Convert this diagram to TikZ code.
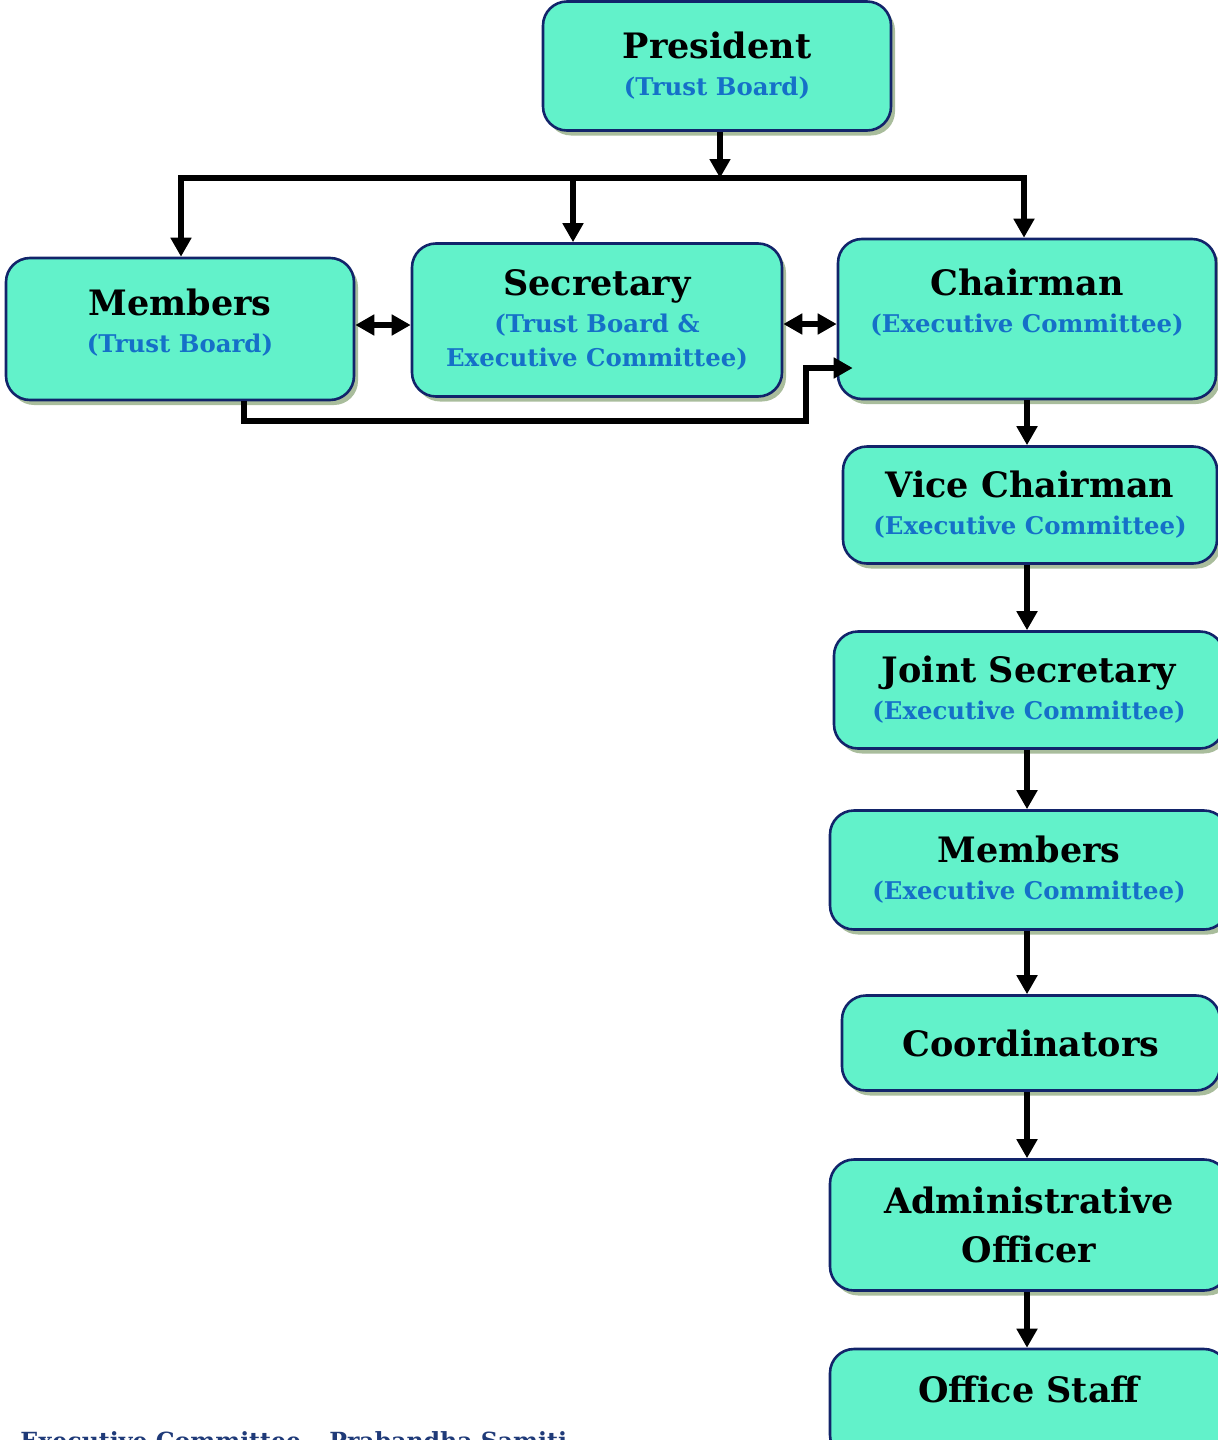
\documentclass[tikz,border=0pt]{standalone}
\usepackage{fontspec}
\setmainfont{DejaVu Serif}
\usepackage{tikz}
\usetikzlibrary{arrows.meta}
\usetikzlibrary{positioning}
\usetikzlibrary{shadows}
\definecolor{boxfill}{HTML}{62F2CA}
\definecolor{boxline}{HTML}{12246A}
\definecolor{boxshadow}{HTML}{A9BD9C}
\definecolor{subblue}{HTML}{1570C8}
\definecolor{footblue}{HTML}{1F3A78}
\newcommand{\subline}{\color{subblue}\fontsize{12.2}{17}\selectfont}
\tikzset{
  box/.style = {draw = boxline, line width = 1.3pt, fill = boxfill, rounded corners = 12pt,
    drop shadow = {shadow xshift = 2pt, shadow yshift = -2.5pt, fill = boxshadow, opacity = 1},
    align = center, inner sep = 0pt, font = \bfseries\fontsize{17.5}{18.5}\selectfont},
  boxsize/.style 2 args = {minimum width = #1, minimum height = #2},
  ttl/.style = {align = center, inner sep = 0pt, font = \bfseries\fontsize{17.5}{18.5}\selectfont},
  conn/.style = {line width = 2.7pt, -{Triangle[length = 9.5pt, width = 10pt]}},
  dconn/.style = {line width = 2.7pt, {Triangle[length = 9.5pt, width = 10pt]}-{Triangle[length = 9.5pt, width = 10pt]}},
  foot/.style = {inner sep = 0pt, text = footblue, font = \bfseries\fontsize{11.8}{14}\selectfont}
}

\begin{document}
\begin{tikzpicture}[x = 0.5pt, y = -0.5pt]
    \useasboundingbox (0,0) rectangle (1218,1440);
    % trust board
    \node [box, boxsize = {174pt}{64.5pt}] (pres) at (717,66) {President\\{\subline (Trust Board)}};
    \node [box, boxsize = {174pt}{71pt}] (memtb) at (180,329) {};
    \node [ttl] (memtbtext) at ([yshift = 3pt]memtb.center) {Members\\{\subline (Trust Board)}};
    \node [box, boxsize = {185pt}{76.5pt}] (sec) at (597,320)
      {Secretary\\{\subline (Trust Board \&}\\[-1.5pt]{\subline Executive Committee)}};
    \node [box, boxsize = {189pt}{80pt}] (chair) at (1027,319) {};
    \node [ttl] (chairtext) at ([yshift = 8pt]chair.center) {Chairman\\{\subline (Executive Committee)}};
    % executive committee
    \node [box, boxsize = {187pt}{58.5pt}] (vice) at (1030,505) {Vice Chairman\\{\subline (Executive Committee)}};
    \node [box, boxsize = {195pt}{58.5pt}] (joint) at (1029,690) {Joint Secretary\\{\subline (Executive Committee)}};
    \node [box, boxsize = {199pt}{59.5pt}] (memec) at (1029,870) {Members\\{\subline (Executive Committee)}};
    \node [box, boxsize = {189pt}{47.5pt}] (coord) at (1031,1043) {Coordinators};
    \node [box, boxsize = {199pt}{65.5pt}] (admin) at (1029,1225) {Administrative\\[6pt]Officer};
    \node [box, boxsize = {199pt}{55pt}] (staff) at (1029,1404) {};
    \node [ttl] (stafftext) at ([yshift = 7.5pt]staff.center) {Office Staff};
    \node [foot, anchor = base west] (footer) at (20,1449) {Executive Committee -- Prabandha Samiti};
    % paths
    \coordinate (hub) at (720,178);
    \coordinate (busL) at (181,178);
    \coordinate (busS) at (573,178);
    \coordinate (busR) at (1024,178);
    \draw [conn] (hub |- pres.south) -- (hub);
    \draw [conn] (hub) -| (busL |- memtb.north);
    \draw [conn] (hub) -| (busR |- chair.north);
    \draw [conn] (busS) -- (busS |- sec.north);
    \draw [dconn] ([yshift = 2pt]memtb.east) -- ([yshift = 2pt]memtb.east -| sec.west);
    \draw [dconn] ([yshift = -2pt]sec.east) -- ([yshift = -2pt]sec.east -| chair.west);
    \coordinate (loopa) at (244,421);
    \coordinate (loopb) at (806,368);
    \draw [conn] (loopa |- memtb.south) -- (loopa) -| (loopb) -- ([xshift = 8pt]chair.west |- loopb);
    \coordinate (col) at (1027,0);
    \foreach \a/\b in {chair/vice, vice/joint, joint/memec, memec/coord, coord/admin, admin/staff}
      \draw [conn] (col |- \a.south) -- (col |- \b.north);
  \end{tikzpicture}
\end{document}
